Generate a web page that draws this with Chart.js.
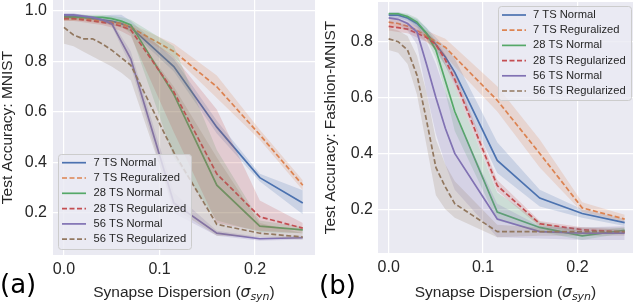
<!DOCTYPE html>
<html>
<head>
<meta charset="utf-8">
<script src="https://cdn.jsdelivr.net/npm/chart.js@4"></script>
<style>
  body { margin: 0; background: #fff; width: 638px; height: 302px; position: relative; overflow: hidden; }
  canvas { position: absolute; top: 0; }
  .tag { position: absolute; font-family: "DejaVu Sans", sans-serif; font-size: 26px; line-height: 30px; color: #000; }
</style>
</head>
<body>
<canvas id="chartA" style="left:0" width="319" height="302"></canvas>
<canvas id="chartB" style="left:319px" width="319" height="302"></canvas>
<div class="tag" style="left:0;top:269px">(a)</div>
<div class="tag" style="left:319px;top:270px">(b)</div>
<script>
// ---- data ----
const sigma = [0, 0.01, 0.02, 0.03, 0.04, 0.05, 0.06, 0.07, 0.115, 0.16, 0.205, 0.25];
const xTicks = [0.0, 0.1, 0.2];
const yTicksMnist = [0.2, 0.4, 0.6, 0.8, 1.0];
const yTicksFashion = [0.2, 0.4, 0.6, 0.8];
const seriesNames = ["7 TS Normal", "7 TS Reguralized", "28 TS Normal", "28 TS Regularized", "56 TS Normal", "56 TS Regularized"];

// MNIST
const mnist7Normal = [0.98, 0.98, 0.975, 0.97, 0.965, 0.96, 0.95, 0.935, 0.78, 0.54, 0.34, 0.24];
const mnist7NormalLo = [0.975, 0.975, 0.97, 0.965, 0.955, 0.945, 0.935, 0.92, 0.76, 0.515, 0.325, 0.195];
const mnist7NormalHi = [0.99, 0.99, 0.985, 0.98, 0.98, 0.985, 0.985, 0.96, 0.81, 0.565, 0.355, 0.29];
const mnist7Reg = [0.97, 0.97, 0.97, 0.965, 0.96, 0.955, 0.95, 0.935, 0.84, 0.70, 0.51, 0.31];
const mnist7RegLo = [0.96, 0.96, 0.96, 0.955, 0.95, 0.945, 0.935, 0.92, 0.82, 0.655, 0.49, 0.29];
const mnist7RegHi = [0.98, 0.98, 0.98, 0.975, 0.97, 0.965, 0.96, 0.95, 0.87, 0.745, 0.53, 0.33];
const mnist28Normal = [0.975, 0.975, 0.975, 0.975, 0.975, 0.97, 0.96, 0.945, 0.67, 0.31, 0.148, 0.133];
const mnist28NormalLo = [0.965, 0.965, 0.965, 0.965, 0.965, 0.955, 0.94, 0.91, 0.42, 0.17, 0.125, 0.12];
const mnist28NormalHi = [0.985, 0.985, 0.985, 0.985, 0.985, 0.98, 0.975, 0.965, 0.86, 0.45, 0.17, 0.145];
const mnist28Reg = [0.97, 0.97, 0.965, 0.96, 0.955, 0.95, 0.94, 0.925, 0.68, 0.355, 0.185, 0.14];
const mnist28RegLo = [0.96, 0.96, 0.955, 0.95, 0.945, 0.935, 0.92, 0.9, 0.52, 0.16, 0.13, 0.12];
const mnist28RegHi = [0.98, 0.98, 0.975, 0.97, 0.965, 0.96, 0.955, 0.945, 0.82, 0.61, 0.25, 0.16];
const mnist56Normal = [0.985, 0.985, 0.98, 0.975, 0.965, 0.95, 0.88, 0.81, 0.24, 0.12, 0.098, 0.102];
const mnist56NormalLo = [0.98, 0.98, 0.975, 0.97, 0.96, 0.94, 0.86, 0.78, 0.2, 0.11, 0.09, 0.095];
const mnist56NormalHi = [0.99, 0.99, 0.985, 0.98, 0.97, 0.96, 0.9, 0.84, 0.28, 0.13, 0.105, 0.11];
const mnist56Reg = [0.935, 0.905, 0.89, 0.89, 0.87, 0.845, 0.815, 0.785, 0.44, 0.155, 0.12, 0.105];
const mnist56RegLo = [0.87, 0.86, 0.84, 0.82, 0.8, 0.78, 0.755, 0.725, 0.22, 0.11, 0.105, 0.095];
const mnist56RegHi = [0.98, 0.975, 0.97, 0.97, 0.965, 0.955, 0.94, 0.93, 0.7, 0.42, 0.16, 0.12];

// Fashion-MNIST
const fashion7Normal = [0.895, 0.895, 0.885, 0.865, 0.83, 0.79, 0.745, 0.69, 0.375, 0.24, 0.185, 0.152];
const fashion7NormalLo = [0.885, 0.885, 0.875, 0.85, 0.81, 0.765, 0.715, 0.65, 0.33, 0.21, 0.17, 0.14];
const fashion7NormalHi = [0.905, 0.905, 0.895, 0.88, 0.85, 0.815, 0.78, 0.74, 0.44, 0.27, 0.2, 0.165];
const fashion7Reg = [0.87, 0.865, 0.855, 0.84, 0.82, 0.8, 0.78, 0.745, 0.59, 0.4, 0.205, 0.165];
const fashion7RegLo = [0.855, 0.85, 0.84, 0.825, 0.8, 0.775, 0.75, 0.71, 0.55, 0.35, 0.19, 0.155];
const fashion7RegHi = [0.885, 0.88, 0.87, 0.855, 0.84, 0.825, 0.81, 0.78, 0.64, 0.45, 0.225, 0.18];
const fashion28Normal = [0.9, 0.9, 0.89, 0.87, 0.83, 0.77, 0.66, 0.55, 0.19, 0.135, 0.105, 0.125];
const fashion28NormalLo = [0.895, 0.895, 0.88, 0.855, 0.81, 0.74, 0.62, 0.48, 0.16, 0.12, 0.09, 0.115];
const fashion28NormalHi = [0.905, 0.905, 0.9, 0.885, 0.85, 0.8, 0.72, 0.64, 0.26, 0.155, 0.12, 0.135];
const fashion28Reg = [0.855, 0.85, 0.845, 0.83, 0.815, 0.79, 0.735, 0.665, 0.285, 0.148, 0.127, 0.118];
const fashion28RegLo = [0.84, 0.835, 0.83, 0.815, 0.8, 0.775, 0.715, 0.64, 0.265, 0.138, 0.118, 0.11];
const fashion28RegHi = [0.87, 0.865, 0.86, 0.845, 0.83, 0.805, 0.755, 0.69, 0.305, 0.158, 0.136, 0.126];
const fashion56Normal = [0.885, 0.88, 0.865, 0.835, 0.72, 0.6, 0.49, 0.4, 0.165, 0.12, 0.115, 0.115];
const fashion56NormalLo = [0.87, 0.865, 0.84, 0.79, 0.62, 0.47, 0.36, 0.27, 0.1, 0.095, 0.09, 0.09];
const fashion56NormalHi = [0.9, 0.895, 0.885, 0.87, 0.8, 0.72, 0.62, 0.54, 0.22, 0.14, 0.135, 0.14];
const fashion56Reg = [0.81, 0.8, 0.77, 0.68, 0.52, 0.35, 0.28, 0.22, 0.12, 0.12, 0.12, 0.12];
const fashion56RegLo = [0.77, 0.76, 0.72, 0.61, 0.43, 0.25, 0.2, 0.17, 0.1, 0.105, 0.105, 0.105];
const fashion56RegHi = [0.85, 0.84, 0.82, 0.75, 0.62, 0.45, 0.36, 0.3, 0.145, 0.135, 0.135, 0.135];

// seaborn "deep" palette
const colors = ["#4c72b0", "#dd8452", "#55a868", "#c44e52", "#8172b3", "#937860"];

Chart.defaults.font.family = "'Liberation Sans', Arial, sans-serif";
Chart.defaults.color = "#262626";

function fade(hex, a) {
  const n = parseInt(hex.slice(1), 16);
  return `rgba(${n >> 16},${(n >> 8) & 255},${n & 255},${a})`;
}

function pts(arr) {
  return arr.map((y, i) => ({ x: sigma[i], y }));
}

// one line + its shaded band (lo/hi), later series drawn on top like matplotlib
function series(k, mean, lo, hi) {
  const color = colors[k];
  const dashed = k % 2 === 1;
  return [
    { label: "lo", band: true, data: pts(lo), borderWidth: 0, pointRadius: 0, fill: false, order: -k },
    { label: "hi", band: true, data: pts(hi), borderWidth: 0, pointRadius: 0, fill: "-1", backgroundColor: fade(color, 0.2), order: -k },
    { label: seriesNames[k], data: pts(mean), borderColor: color, borderWidth: 1.7, borderDash: dashed ? [5, 2.5] : [], pointRadius: 0, fill: false, order: -k },
  ];
}

// plot background
const plotBg = {
  id: "plotBg",
  beforeDraw(chart) {
    const { ctx, chartArea: a } = chart;
    ctx.save();
    ctx.fillStyle = "#eaeaf2";
    ctx.fillRect(a.left, a.top, a.right - a.left, a.bottom - a.top);
    ctx.restore();
  },
};

// framed legend inside the plot
const boxLegend = {
  id: "boxLegend",
  afterDatasetsDraw(chart, args, o) {
    const ctx = chart.ctx;
    const items = chart.data.datasets.filter((d) => !d.band);
    ctx.save();
    ctx.beginPath();
    ctx.roundRect(o.left + 0.5, o.top + 0.5, o.width, o.height, 3);
    ctx.fillStyle = "rgba(234,234,242,0.8)";
    ctx.fill();
    ctx.strokeStyle = "#cccccc";
    ctx.lineWidth = 1;
    ctx.stroke();
    ctx.font = "11.2px 'Liberation Sans'";
    ctx.textBaseline = "middle";
    items.forEach((d, i) => {
      const y = o.firstRow + i * o.rowGap;
      ctx.beginPath();
      ctx.setLineDash(d.borderDash);
      ctx.strokeStyle = d.borderColor;
      ctx.lineWidth = d.borderWidth;
      ctx.moveTo(o.lineStart, y);
      ctx.lineTo(o.lineEnd, y);
      ctx.stroke();
      ctx.fillStyle = "#262626";
      ctx.fillText(d.label, o.textX, y);
    });
    ctx.restore();
  },
};

// x title with italic sigma and subscript
const xTitle = {
  id: "xTitle",
  afterDraw(chart) {
    const { ctx, chartArea: a } = chart;
    const parts = [
      { t: "Synapse Dispersion (", font: "15.5px 'Liberation Sans'", dy: 0 },
      { t: "σ", font: "italic 15.5px 'DejaVu Sans'", dy: 0 },
      { t: "syn", font: "italic 11px 'DejaVu Sans'", dy: 3 },
      { t: ")", font: "15.5px 'Liberation Sans'", dy: 0 },
    ];
    ctx.save();
    let total = 0;
    parts.forEach((p) => { ctx.font = p.font; p.w = ctx.measureText(p.t).width; total += p.w; });
    let x = (a.left + a.right) / 2 - total / 2;
    const base = chart.height - 5;
    ctx.fillStyle = "#262626";
    ctx.textBaseline = "alphabetic";
    parts.forEach((p) => { ctx.font = p.font; ctx.fillText(p.t, x, base + p.dy); x += p.w; });
    ctx.restore();
  },
};

// the plot box is pinned by hand, so tick labels may not push it inward
function noPad(s) {
  s.paddingTop = 0; s.paddingBottom = 0; s.paddingLeft = 0; s.paddingRight = 0;
}

function makeChart(id, cfg) {
  const datasets = [];
  cfg.s.forEach((arrs, k) => datasets.push(...series(k, ...arrs)));
  return new Chart(document.getElementById(id), {
    type: "line",
    data: { datasets },
    options: {
      responsive: false,
      animation: false,
      devicePixelRatio: 1,
      layout: { padding: cfg.pad },
      elements: { line: { tension: 0 } },
      plugins: {
        legend: { display: false },
        tooltip: { enabled: false },
        boxLegend: cfg.legend,
      },
      scales: {
        x: {
          type: "linear",
          min: cfg.xMin,
          max: cfg.xMax,
          afterBuildTicks: (s) => { s.ticks = xTicks.map((v) => ({ value: v })); },
          afterFit: (s) => { s.height = cfg.xAxisH; noPad(s); },
          ticks: { font: { size: 16 }, padding: 5, maxRotation: 0, callback: (v) => v.toFixed(1) },
          grid: { color: "#ffffff", lineWidth: 1.2, drawTicks: false },
          border: { display: false },
        },
        y: {
          min: cfg.yMin,
          max: cfg.yMax,
          afterBuildTicks: (s) => { s.ticks = cfg.yTicks.map((v) => ({ value: v })); },
          afterFit: (s) => { s.width = cfg.yAxisW; noPad(s); },
          ticks: { font: { size: 16 }, padding: cfg.yPad, callback: (v) => v.toFixed(1) },
          grid: { color: "#ffffff", lineWidth: 1.2, drawTicks: false },
          border: { display: false },
          title: { display: true, text: cfg.yTitle, font: { size: 15.5, lineHeight: 1 }, padding: { top: cfg.yTitlePad, bottom: 0 } },
        },
      },
    },
    plugins: [plotBg, boxLegend, xTitle],
  });
}

makeChart("chartA", {
  s: [
    [mnist7Normal, mnist7NormalLo, mnist7NormalHi],
    [mnist7Reg, mnist7RegLo, mnist7RegHi],
    [mnist28Normal, mnist28NormalLo, mnist28NormalHi],
    [mnist28Reg, mnist28RegLo, mnist28RegHi],
    [mnist56Normal, mnist56NormalLo, mnist56NormalHi],
    [mnist56Reg, mnist56RegLo, mnist56RegHi],
  ],
  xMin: -0.0115, xMax: 0.2628, yMin: 0.0337, yMax: 1.0436,
  yTicks: yTicksMnist, yTitle: "Test Accuracy: MNIST",
  pad: { left: 0, right: 4, top: 0, bottom: 0 },
  yAxisW: 53, xAxisH: 47, yPad: 6, yTitlePad: 0,
  legend: { left: 58, top: 154, width: 133, height: 95, firstRow: 162.7, rowGap: 15.3, lineStart: 62, lineEnd: 86, textX: 93.5 },
});

makeChart("chartB", {
  s: [
    [fashion7Normal, fashion7NormalLo, fashion7NormalHi],
    [fashion7Reg, fashion7RegLo, fashion7RegHi],
    [fashion28Normal, fashion28NormalLo, fashion28NormalHi],
    [fashion28Reg, fashion28RegLo, fashion28RegHi],
    [fashion56Normal, fashion56NormalLo, fashion56NormalHi],
    [fashion56Reg, fashion56RegLo, fashion56RegHi],
  ],
  xMin: -0.0113, xMax: 0.2588, yMin: 0.0435, yMax: 0.942,
  yTicks: yTicksFashion, yTitle: "Test Accuracy: Fashion-MNIST",
  pad: { left: 0, right: 5, top: 2, bottom: 0 },
  yAxisW: 59, xAxisH: 49, yPad: 5, yTitlePad: 4,
  legend: { left: 179, top: 6, width: 133, height: 94, firstRow: 15, rowGap: 15.2, lineStart: 183, lineEnd: 207, textX: 214 },
});
</script>
</body>
</html>
